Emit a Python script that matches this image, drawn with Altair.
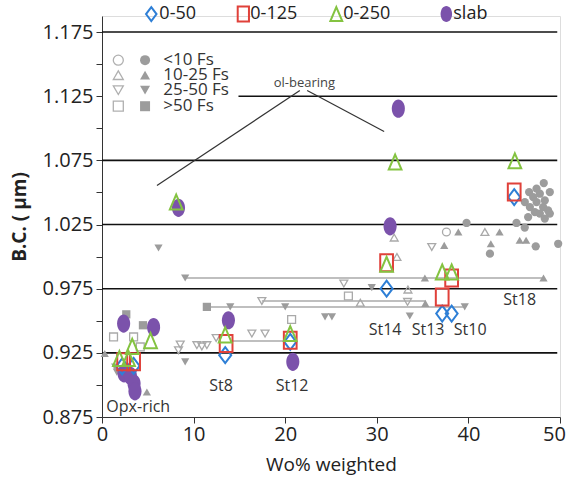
import altair as alt
import pandas as pd

FONT = "Open Sans"

# ---------------- data ----------------
# gray literature points: x (Wo%), y (B.C.), shape, filled
gray_x = [2.65, 4.47, 1.26, 3.45, 4.18, 0.3, 1.44, 1.62, 4.9, 8.54, 8.35, 9.08, 10.36, 10.9, 11.45, 12.46,
          16.36, 17.8, 6.17, 9.08, 11.45, 14.0, 20.0, 17.45, 20.7, 24.35, 25.1, 26.4, 26.9, 28.2, 29.45,
          31.9, 32.2, 33.4, 33.36, 33.6, 35.3, 39.6, 35.25, 48.2, 37.6, 38.9, 39.8, 41.8, 43.4, 36.0,
          37.36, 42.45, 42.35, 45.6, 46.3, 47.35, 49.8, 45.25, 46.15,
          48.23, 47.44, 46.63, 48.89, 47.8, 47.07, 48.34, 46.16, 47.44, 46.71, 48.16, 48.7, 47.25,
          47.8, 48.89, 46.52, 48.34]
gray_y = [0.955, 0.9465, 0.9374, 0.9374, 0.9296, 0.9245, 0.914, 0.910, 0.8945, 0.9315, 0.927, 0.918,
          0.931, 0.930, 0.931, 0.9366, 0.940, 0.940, 1.0067, 0.9833, 0.9608, 0.9608, 0.9608, 0.9654,
          0.951, 0.953, 0.953, 0.979, 0.9693, 0.964, 0.9758, 1.0148, 0.9997, 0.9743, 0.9647, 0.9537,
          0.9635, 0.9608, 0.9833, 0.9833, 1.0192, 1.0192, 1.0262, 1.0192, 1.0192, 1.0075, 1.0088,
          1.010, 1.0023, 1.0127, 1.0127, 1.008, 1.010, 1.0262, 1.0226,
          1.0573, 1.053, 1.0503, 1.0503, 1.049, 1.0464, 1.0438, 1.0425, 1.0425, 1.0386, 1.0386,
          1.036, 1.0347, 1.0335, 1.0335, 1.0308, 1.0296]
gray_shape = ["square", "square", "square", "square", "square", "triangle-up", "triangle-down",
              "triangle-down", "triangle-up", "triangle-down", "triangle-down", "triangle-down",
              "triangle-down", "triangle-down", "triangle-down", "triangle-down", "triangle-down",
              "triangle-down", "triangle-down", "triangle-down", "square", "triangle-down",
              "triangle-down", "triangle-down", "square", "triangle-down", "triangle-down",
              "triangle-down", "square", "triangle-up", "triangle-down", "triangle-up", "triangle-up",
              "triangle-up", "triangle-down", "triangle-down", "triangle-up", "triangle-down",
              "triangle-up", "triangle-up", "circle", "triangle-up", "circle", "triangle-up",
              "triangle-up", "triangle-down", "triangle-up", "triangle-up", "circle", "triangle-up",
              "triangle-up", "circle", "circle", "circle", "circle"] + ["circle"] * 17
gray_filled = [1, 1, 0, 0, 0, 1, 1, 1, 1, 0, 0, 1, 0, 0, 0, 0, 0, 0, 1, 1, 1, 1, 1, 0, 0, 1, 1, 0, 0,
               0, 1, 0, 0, 0, 0, 1, 1, 1, 1, 1, 0, 1, 1, 0, 1, 0, 1, 1, 1, 1, 1, 1, 1, 1, 1] + [1] * 17

# range bars (gray horizontal lines)
range_y = [0.9833, 0.9654, 0.9608, 0.9343]
range_x0 = [9.08, 17.45, 11.45, 14.0]
range_x1 = [48.2, 35.3, 39.6, 20.6]

# size-fraction series
d50_x = [2.2, 3.45, 13.45, 20.55, 31.07, 37.14, 38.17, 45.0]
d50_y = [0.9145, 0.9148, 0.9232, 0.9335, 0.975, 0.9556, 0.9556, 1.0464]
d125_x = [2.36, 3.45, 13.55, 20.55, 31.07, 37.14, 38.17, 45.0]
d125_y = [0.918, 0.918, 0.9322, 0.9348, 0.9953, 0.9685, 0.9833, 1.0503]
d250_x = [1.9, 2.9, 3.3, 5.3, 8.1, 13.45, 20.55, 31.07, 32.0, 37.14, 38.17, 45.07]
d250_y = [0.9205, 0.9205, 0.9300, 0.9345, 1.0425, 0.939, 0.940, 0.994, 1.0737, 0.988, 0.988, 1.0746]
slab_x = [2.36, 5.63, 2.4, 3.1, 3.5, 3.6, 8.35, 13.8, 20.83, 31.45, 32.35]
slab_y = [0.9478, 0.945, 0.909, 0.907, 0.901, 0.895, 1.038, 0.9504, 0.918, 1.0236, 1.1153]

# station labels
lab_text = ["Opx-rich", "St8", "St12", "St14", "St13", "St10", "St18"]
lab_x = [3.96, 13.0, 20.75, 30.9, 35.6, 40.2, 45.6]
lab_y = [0.8826, 0.899, 0.899, 0.9426, 0.9426, 0.9426, 0.966]

# ol-bearing annotation
ann_x0 = [21.6, 22.4]
ann_y0 = [1.1294, 1.1294]
ann_x1 = [6.0, 30.8]
ann_y1 = [1.0555, 1.0975]

# reference lines
grid_y = [0.925, 0.975, 1.025, 1.075, 1.125, 1.175]
grid_x0 = [0, 0, 0, 0, 14.9, 0]
grid_x1 = [49.7, 49.7, 49.7, 49.7, 49.7, 49.7]

x_ticks = [0, 10, 20, 30, 40, 50]
y_ticks = [0.875, 0.9, 0.925, 0.95, 0.975, 1.0, 1.025, 1.05, 1.075, 1.1, 1.125, 1.15, 1.175]
y_labels = ["0.875", "0.925", "0.975", "1.025", "1.075", "1.125", "1.175"]

# legends
top_leg_text = ["0-50", "0-125", "0-250", "slab"]
fs_text = ["<10 Fs", "10-25 Fs", "25-50 Fs", ">50 Fs"]
fs_shape = ["circle", "triangle-up", "triangle-down", "square"]

# ---------------- styling ----------------
BLUE = "#2e7fd6"
RED = "#e0413a"
GREEN = "#84c341"
PURPLE = "#7b52ab"
GRAYF = "#9c9c9c"
GRAYO = "#a9a9a9"

DIAMOND = "M0,-1 L0.75,0 L0,1 L-0.75,0 Z"
RECT = "M-0.75,-1 L0.75,-1 L0.75,1 L-0.75,1 Z"
TRI = "M0,-1 L0.85,1 L-0.85,1 Z"
ELL = "M0,-1 A0.72,1 0 1,1 0,1 A0.72,1 0 1,1 0,-1 Z"

xs = alt.Scale(domain=[0, 50], nice=False, zero=False)
ys = alt.Scale(domain=[0.875, 1.1875], nice=False, zero=False)

label_expr = "indexof(%s, format(datum.value, '.3f')) >= 0 ? format(datum.value, '.3f') : ''" % (
    "[" + ",".join("'%s'" % s for s in y_labels) + "]")

xax = alt.Axis(values=x_ticks, title="Wo% weighted", grid=False, labelFontSize=20, titleFontSize=19,
               labelFont=FONT, titleFont=FONT, titleFontWeight="normal", domainColor="#333",
               tickColor="#333", tickSize=6, labelColor="#222", titleColor="#222", labelPadding=1,
               titlePadding=11, labelFlush=False,
               labelOffset={"expr": "datum.value == 50 ? -6 : 0"})
yax = alt.Axis(values=y_ticks, labelExpr=label_expr, title="B.C. ( μm)", grid=False, labelFontSize=20,
               titleFontSize=19, labelFont=FONT, titleFont=FONT, titleFontWeight="bold",
               domainColor="#333", tickColor="#333", tickSize=6, labelColor="#222", titleColor="#222",
               labelPadding=3, titlePadding=13, labelFlush=False)


def X(f):
    return alt.X(f, type="quantitative", scale=xs, axis=xax)


def Y(f):
    return alt.Y(f, type="quantitative", scale=ys, axis=yax)


grid_df = pd.DataFrame({"y": grid_y, "x": grid_x0, "x2": grid_x1})
range_df = pd.DataFrame({"y": range_y, "x": range_x0, "x2": range_x1})
gray_df = pd.DataFrame({"x": gray_x, "y": gray_y, "shape": gray_shape, "filled": gray_filled})
ann_df = pd.DataFrame({"x": ann_x0, "y": ann_y0, "x2": ann_x1, "y2": ann_y1})
lab_df = pd.DataFrame({"x": lab_x, "y": lab_y, "t": lab_text})

grid = alt.Chart(grid_df).mark_rule(color="#111", strokeWidth=1.6).encode(
    x=X("x"), x2="x2", y=Y("y"))
ranges = alt.Chart(range_df).mark_rule(color="#aaaaaa", strokeWidth=1.5).encode(
    x=X("x"), x2="x2", y=Y("y"))
gray_f = alt.Chart(gray_df).transform_filter("datum.filled == 1").mark_point(
    filled=True, color=GRAYF, opacity=1, size=68).encode(
    x=X("x"), y=Y("y"), shape=alt.Shape("shape:N", scale=None))
gray_o = alt.Chart(gray_df).transform_filter("datum.filled == 0").mark_point(
    filled=False, color=GRAYO, opacity=1, size=62, strokeWidth=1.3).encode(
    x=X("x"), y=Y("y"), shape=alt.Shape("shape:N", scale=None))


def series(xv, yv, shape, color, size, filled):
    df = pd.DataFrame({"x": xv, "y": yv})
    if filled:
        m = alt.Chart(df).mark_point(shape=shape, filled=True, color=color, opacity=1, size=size)
    else:
        m = alt.Chart(df).mark_point(shape=shape, filled=False, color=color, opacity=1, size=size,
                                     strokeWidth=2)
    return m.encode(x=X("x"), y=Y("y"))


slab = series(slab_x, slab_y, ELL, PURPLE, 330, True)
s50 = series(d50_x, d50_y, DIAMOND, BLUE, 256, False)
s125 = series(d125_x, d125_y, RECT, RED, 289, False)
s250 = series(d250_x, d250_y, TRI, GREEN, 225, False)

ann = alt.Chart(ann_df).mark_rule(color="#333", strokeWidth=1.2).encode(
    x=X("x"), y=Y("y"), x2="x2", y2="y2")
ann_txt = alt.Chart(pd.DataFrame({"x": [22.1], "y": [1.1352], "t": ["ol-bearing"]})).mark_text(
    font=FONT, fontSize=13, color="#444", baseline="middle").encode(x=X("x"), y=Y("y"), text="t:N")
labels = alt.Chart(lab_df).mark_text(font=FONT, fontSize=16, color="#333").encode(
    x=X("x"), y=Y("y"), text="t:N")

# top legend (positioned in data units above the frame)
tl_sym_x = [5.38, 15.43, 25.58, 37.59]
tl_txt_x = [6.26, 16.19, 26.34, 38.35]
tl_y = 1.189
top_syms = [
    series([tl_sym_x[0]], [tl_y], DIAMOND, BLUE, 196, False),
    series([tl_sym_x[1]], [tl_y], RECT, RED, 225, False),
    series([tl_sym_x[2]], [tl_y], TRI, GREEN, 196, False),
    series([tl_sym_x[3]], [tl_y], ELL, PURPLE, 256, True),
]
top_txt = alt.Chart(pd.DataFrame({"x": tl_txt_x, "y": [tl_y] * 4, "t": top_leg_text})).mark_text(
    font=FONT, fontSize=18, color="#222", align="left", baseline="middle").encode(
    x=X("x"), y=Y("y"), text="t:N")

# inner Fs legend
fs_y = [1.1531, 1.1414, 1.1297, 1.1172]
fs_open_x = 1.78
fs_fill_x = 4.7
fs_txt_x = 6.69
fs_df = pd.DataFrame({"y": fs_y, "shape": fs_shape, "t": fs_text,
                      "xo": [fs_open_x] * 4, "xf": [fs_fill_x] * 4, "xt": [fs_txt_x] * 4})
fs_open = alt.Chart(fs_df).mark_point(filled=False, color="#b0b0b0", opacity=1, size=100,
                                      strokeWidth=1.3).encode(
    x=X("xo"), y=Y("y"), shape=alt.Shape("shape:N", scale=None))
fs_fill = alt.Chart(fs_df).mark_point(filled=True, color=GRAYF, opacity=1, size=100).encode(
    x=X("xf"), y=Y("y"), shape=alt.Shape("shape:N", scale=None))
fs_txt = alt.Chart(fs_df).mark_text(font=FONT, fontSize=17, color="#333", align="left",
                                    baseline="middle").encode(x=X("xt"), y=Y("y"), text="t:N")

chart = alt.layer(
    grid, ranges, gray_o, gray_f, slab, s50, s125, s250, ann, ann_txt, labels,
    *top_syms, top_txt, fs_open, fs_fill, fs_txt
).properties(
    width=458, height=401,
    autosize=alt.AutoSizeParams(type="none"),
    padding={"left": 102, "top": 16, "right": 7, "bottom": 67},
).configure_view(stroke=None).configure(background="white")

chart.save("out.html", embed_options={"renderer": "svg", "actions": False})
